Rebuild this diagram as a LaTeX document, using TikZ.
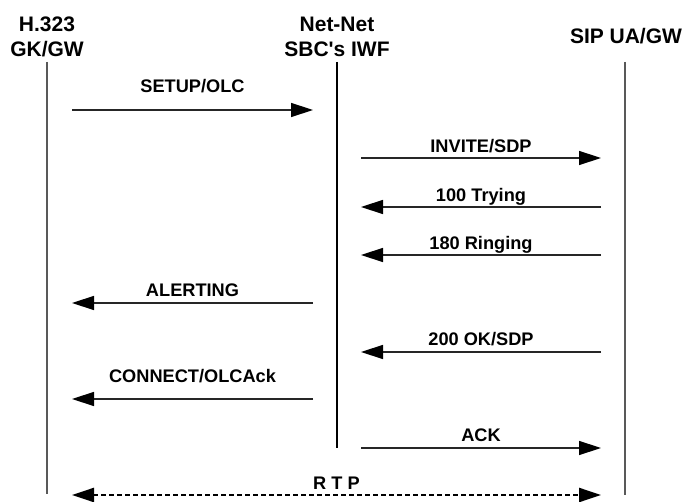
\documentclass[tikz,border=0pt]{standalone}
\usepackage{fontspec}
\setmainfont{Liberation Sans}
\usetikzlibrary{positioning}
\usetikzlibrary{arrows.meta}

\begin{document}
\begin{tikzpicture}[
    x=1pt, y=-1pt,
    >={Triangle[length=22pt,width=14pt,color=black]},
    head/.style={font=\fontsize{21}{25}\selectfont\bfseries, align=center, inner sep=0pt, anchor=north},
    lbl/.style={font=\fontsize{18.2}{20}\selectfont\bfseries, text=black, inner sep=0pt, text depth=0pt, above=5pt},
    life/.style={line width=1.4pt, black!65},
    msg/.style={->, line width=1.4pt, draw=black!85},
    media/.style={<->, line width=2.4pt, dash pattern=on 5pt off 3pt}
]
\useasboundingbox (0,0) rectangle (683,502);
% participants
\node[head] (h323) at (47,17) {H.323\\GK/GW};
\node[head] (iwf) at (337,17) {Net-Net\\SBC\textquotesingle s IWF};
\node[head] (sip) at (626,28) {SIP UA/GW};
% lifelines
\coordinate (h323top) at (47,62);
\coordinate (h323bot) at (47,494);
\coordinate (iwftop) at (337,62);
\coordinate (iwfbot) at (337,448);
\coordinate (siptop) at (625,62);
\coordinate (sipbot) at (625,495);
\draw[life] (h323top) -- (h323bot);
\draw[life, black] (iwftop) -- (iwfbot);
\draw[life] (siptop) -- (sipbot);
% message ends
\coordinate (setupA) at (72,110);   \coordinate (setupB) at (313,110);
\coordinate (invA) at (361,158);    \coordinate (invB) at (601,158);
\coordinate (tryA) at (601,207);    \coordinate (tryB) at (361,207);
\coordinate (ringA) at (601,255);   \coordinate (ringB) at (361,255);
\coordinate (alertA) at (313,303);  \coordinate (alertB) at (72,303);
\coordinate (okA) at (601,352);     \coordinate (okB) at (361,352);
\coordinate (connA) at (313,399);   \coordinate (connB) at (72,399);
\coordinate (ackA) at (361,448);    \coordinate (ackB) at (601,448);
\coordinate (rtpA) at (72,495);     \coordinate (rtpB) at (601,495);
% messages
\draw[msg] (setupA) -- node[lbl, above=17pt] (setup) {SETUP/OLC} (setupB);
\draw[msg] (invA) -- node[lbl] (invite) {INVITE/SDP} (invB);
\draw[msg] (tryA) -- node[lbl] (trying) {100 Trying} (tryB);
\draw[msg] (ringA) -- node[lbl] (ringing) {180 Ringing} (ringB);
\draw[msg] (alertA) -- node[lbl, above=6pt] (alerting) {ALERTING} (alertB);
\draw[msg] (okA) -- node[lbl, above=6pt] (ok) {200 OK/SDP} (okB);
\draw[msg] (connA) -- node[lbl, above=16pt] (connect) {CONNECT/OLCAck} (connB);
\draw[msg] (ackA) -- node[lbl, above=6pt] (ack) {ACK} (ackB);
\draw[media] (rtpA) -- node[lbl, above=4pt] (rtp) {R T P} (rtpB);
\end{tikzpicture}
\end{document}
